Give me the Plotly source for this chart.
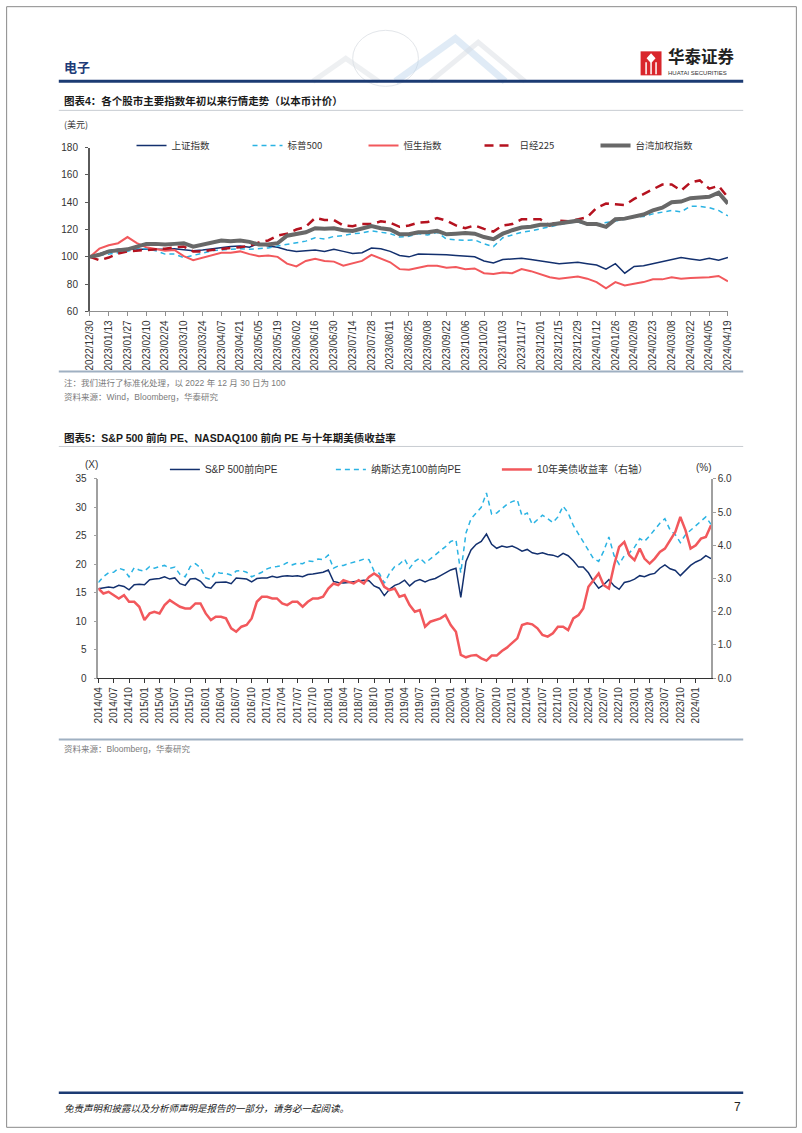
import plotly.graph_objects as go
import pandas as pd

W, H = 802, 1133
S = 0.99  # compensation for the slight shrink observed in the photographed page
def fx(x): return (401 + (x - 401) / S) / W
def fy(y): return 1 - (566.5 + (y - 566.5) / S) / H

FONT = "Liberation Sans, Arial, Noto Sans CJK SC, sans-serif"
CJK = "Noto Sans CJK SC, Liberation Sans, sans-serif"

# ---------------- Chart 1 data (weekly, normalised to 100 on 2022/12/30) ----------------
week_dates = [d.strftime("%Y-%m-%d") for d in pd.date_range("2022-12-30", "2024-04-19", freq="7D")]
shanghai = [100, 102, 104.5, 105.5, 105.5, 105, 105.5, 105, 105.5, 106,
            105, 104.5, 105, 106, 107, 107.5, 108, 107, 110, 108,
            107, 105, 104, 104.5, 105, 104, 105.5, 104, 102.5, 103,
            106.5, 106, 104, 101, 100, 102, 102, 101.5, 101.5, 101,
            100.5, 100, 97, 95.5, 98, 98.5, 99, 98, 97, 96.5,
            95, 95.5, 96, 95, 94, 91, 95, 88, 93, 93.5,
            95, 96.5, 97.5, 99.5, 98.5, 97.5, 99, 97.5, 99.5]
sp500_idx = [100, 101, 101.5, 102.5, 104, 106, 106, 104.5, 102, 102,
             99.5, 101, 103, 104.5, 105, 105.5, 106, 105.5, 106, 106.5,
             108, 109, 110, 111.5, 114, 113, 115, 115.5, 117, 117.5,
             119, 118, 117, 114.5, 115, 117, 116, 118, 113, 112.5,
             112, 112.5, 109.5, 107.5, 114, 116, 118, 119, 120.5, 122,
             124, 125, 125.5, 123.5, 124, 125, 126.5, 127.5, 129, 129.5,
             131.5, 132.5, 134, 133, 137, 137, 136, 134, 130]
hang_seng = [100, 106, 108.5, 110, 114.5, 110, 107, 106, 104.5, 105,
             100.5, 97.5, 99.5, 101, 103, 103, 104, 102, 100.5, 101,
             100, 95, 93, 97, 98.5, 97, 96.5, 93.5, 95, 97,
             101.5, 99, 96, 91, 90.5, 92, 93.5, 93.5, 92, 92.5,
             91, 91.5, 88, 87.5, 88.5, 88, 91, 89.5, 87.5, 85,
             84, 85, 85.5, 84, 81.5, 77, 81.5, 79, 80, 81.5,
             83.5, 83.5, 85, 84, 84.5, 84.5, 85, 86, 82]
nikkei = [100, 97.5, 99.5, 102.5, 104, 104.5, 105, 105, 106, 107,
          107.5, 104, 104, 105, 106, 106.5, 107, 108, 110.5, 112,
          115.5, 117, 120, 122, 128.5, 127, 127, 123, 122.5, 124,
          124, 126, 125, 122, 123, 125, 125.5, 128.5, 126.5, 123,
          121, 123, 120.5, 118.5, 123, 124, 127.5, 127.5, 127.5, 123,
          126.5, 126, 127.5, 129, 136, 139, 138.5, 138, 142.5, 146,
          150, 153, 153, 148.5, 154.5, 156, 150, 152, 143.5]
taiwan = [100, 101.5, 104, 105, 105.5, 107.5, 109.5, 109.5, 109, 109.5,
          110, 107.5, 109, 110, 112, 111.5, 112, 111, 109, 109,
          110, 115.5, 117, 118, 121, 120.5, 121, 119.5, 119, 120.5,
          122.5, 121, 120, 116.5, 116.5, 118, 118, 119, 116.5, 117,
          117.5, 117, 114.5, 113, 117, 119.5, 121.5, 122, 123.5, 123.5,
          124.5, 125, 126.5, 124, 124, 122, 127.5, 128, 129.5, 131,
          134, 136, 140, 140.5, 143, 143.5, 144, 147, 139]
c1_names = ["上证指数", "标普500", "恒生指数", "日经225", "台湾加权指数"]
c1_tickvals = [d.strftime("%Y-%m-%d") for d in pd.date_range("2022-12-30", "2024-04-19", freq="14D")]
c1_ticktext = [d.replace("-", "/") for d in c1_tickvals]

# ---------------- Chart 2 data (monthly) ----------------
month_dates = [d.strftime("%Y-%m-%d") for d in pd.date_range("2014-04-01", "2024-04-01", freq="MS")]
spx_pe = [15.7, 15.8, 16.0, 15.9, 16.3, 16.1, 15.5, 16.4, 16.5,
          16.4, 17.3, 17.4, 17.5, 17.8, 17.4, 17.6, 16.6, 16.3, 17.4, 17.5, 17.0,
          16.0, 15.8, 16.8, 16.9, 16.9, 16.6, 17.6, 17.5, 17.4, 16.9, 17.5, 17.6,
          17.6, 17.9, 17.7, 17.9, 18.0, 17.9, 18.0, 17.8, 18.2, 18.3, 18.5, 18.6,
          19.0, 17.0, 16.8, 16.7, 16.8, 16.9, 17.0, 17.2, 17.1, 16.2, 15.8, 14.5,
          15.6, 16.3, 16.6, 17.2, 16.2, 17.0, 17.3, 16.9, 17.3, 17.5, 18.0, 18.5,
          19.0, 19.3, 14.2, 20.5, 22.5, 23.5, 24.0, 25.3, 23.5, 22.8, 23.2, 23.0,
          23.2, 22.8, 22.3, 22.6, 22.0, 21.8, 22.0, 21.7, 21.6, 21.3, 21.9, 21.5,
          20.6, 19.5, 19.5, 18.5, 17.0, 15.8, 16.4, 17.3, 16.2, 15.6, 16.8, 17.0,
          17.4, 18.0, 17.8, 18.2, 18.4, 19.3, 19.9, 19.2, 18.9, 18.0, 18.9, 19.8,
          20.4, 20.8, 21.5, 21.0]
ndx_pe = [16.8, 17.8, 18.5, 18.6, 19.3, 19.0, 17.8, 19.4, 19.0,
          18.8, 19.6, 19.3, 19.6, 19.8, 19.3, 19.5, 18.2, 17.8, 19.6, 20.1, 19.4,
          17.6, 17.3, 18.7, 18.4, 18.4, 18.1, 18.8, 18.9, 18.6, 17.8, 18.2, 18.6,
          19.2, 19.5, 19.6, 19.8, 20.3, 19.9, 20.2, 20.1, 20.6, 20.5, 20.9, 20.8,
          21.6, 19.3, 19.7, 19.8, 20.1, 20.3, 20.6, 20.9, 20.8, 18.8, 18.4, 16.7,
          18.4, 19.6, 20.0, 20.9, 19.3, 20.5, 21.1, 20.2, 20.9, 21.6, 22.4, 23.1,
          24.0, 24.3, 18.5, 25.5, 28.0, 29.0, 30.0, 32.5, 28.8, 29.0, 29.8, 30.5,
          31.0, 31.3, 28.5, 29.0, 27.0, 27.8, 28.6, 28.0, 27.3, 28.3, 30.2, 29.0,
          26.8, 25.3, 24.0, 22.5, 21.0, 20.5, 22.3, 24.8, 21.5, 20.0, 21.5, 22.0,
          23.0, 24.5, 24.0, 25.0, 26.0, 27.2, 28.0, 26.0, 25.2, 23.8, 25.2, 26.0,
          26.8, 27.6, 28.3, 27.0]
ust10y = [2.70, 2.55, 2.60, 2.50, 2.40, 2.50, 2.30, 2.30, 2.15,
          1.75, 1.95, 2.00, 1.95, 2.20, 2.35, 2.25, 2.15, 2.10, 2.10, 2.25, 2.25,
          1.95, 1.75, 1.85, 1.85, 1.80, 1.50, 1.40, 1.55, 1.60, 1.80, 2.30, 2.45,
          2.45, 2.40, 2.40, 2.25, 2.20, 2.30, 2.30, 2.15, 2.30, 2.40, 2.40, 2.45,
          2.70, 2.85, 2.80, 2.95, 2.90, 2.85, 2.95, 2.85, 3.05, 3.15, 3.05, 2.75,
          2.65, 2.70, 2.45, 2.50, 2.20, 2.00, 2.05, 1.55, 1.70, 1.75, 1.80, 1.90,
          1.60, 1.40, 0.70, 0.63, 0.68, 0.70, 0.60, 0.53, 0.68, 0.68, 0.82, 0.92,
          1.05, 1.20, 1.60, 1.65, 1.62, 1.50, 1.30, 1.25, 1.35, 1.55, 1.55, 1.45,
          1.80, 1.90, 2.10, 2.75, 2.95, 3.15, 2.80, 2.70, 3.40, 3.95, 4.10, 3.70,
          3.55, 3.90, 3.60, 3.45, 3.60, 3.80, 3.90, 4.15, 4.40, 4.85, 4.45, 3.90,
          4.00, 4.20, 4.25, 4.60]
c2_names = ["S&P 500前向PE", "纳斯达克100前向PE", "10年美债收益率（右轴）"]
c2_tickvals = [d.strftime("%Y-%m-%d") for d in pd.date_range("2014-04-01", "2024-01-01", freq="3MS")]
c2_ticktext = [d[:7].replace("-", "/") for d in c2_tickvals]

NAVY = "#13306e"
SKY = "#2ab3e3"
RED = "#f2585c"
DRED = "#b5121f"
GRAY = "#686868"

fig = go.Figure()
# chart 1
fig.add_trace(go.Scatter(x=week_dates, y=shanghai, name=c1_names[0], mode="lines",
                         line=dict(color=NAVY, width=1.5), xaxis="x", yaxis="y", legend="legend"))
fig.add_trace(go.Scatter(x=week_dates, y=sp500_idx, name=c1_names[1], mode="lines",
                         line=dict(color=SKY, width=1.5, dash="5px,4px"), xaxis="x", yaxis="y", legend="legend"))
fig.add_trace(go.Scatter(x=week_dates, y=hang_seng, name=c1_names[2], mode="lines",
                         line=dict(color=RED, width=2), xaxis="x", yaxis="y", legend="legend"))
fig.add_trace(go.Scatter(x=week_dates, y=nikkei, name=c1_names[3], mode="lines",
                         line=dict(color=DRED, width=2.5, dash="9px,6px"), xaxis="x", yaxis="y", legend="legend"))
fig.add_trace(go.Scatter(x=week_dates, y=taiwan, name=c1_names[4], mode="lines",
                         line=dict(color=GRAY, width=4), xaxis="x", yaxis="y", legend="legend"))
# chart 2
fig.add_trace(go.Scatter(x=month_dates, y=spx_pe, name=c2_names[0], mode="lines",
                         line=dict(color=NAVY, width=1.5), xaxis="x2", yaxis="y2", legend="legend2"))
fig.add_trace(go.Scatter(x=month_dates, y=ndx_pe, name=c2_names[1], mode="lines",
                         line=dict(color=SKY, width=1.5, dash="5px,4px"), xaxis="x2", yaxis="y2", legend="legend2"))
fig.add_trace(go.Scatter(x=month_dates, y=ust10y, name=c2_names[2], mode="lines",
                         line=dict(color=RED, width=2.5), xaxis="x2", yaxis="y3", legend="legend2"))

tickfont = dict(size=10, family=FONT, color="#333333")

fig.update_layout(
    width=W, height=H, margin=dict(l=0, r=0, t=0, b=0),
    paper_bgcolor="white", plot_bgcolor="white",
    font=dict(family=FONT, color="#333333"),
    xaxis=dict(domain=[fx(88.3), fx(728.7)], anchor="y", type="date",
               range=[week_dates[0], week_dates[-1]],
               tickmode="array", tickvals=c1_tickvals, ticktext=c1_ticktext, tickangle=-90,
               showline=True, linecolor="#8f8f8f", linewidth=1, ticks="outside", ticklen=4,
               tickcolor="#8f8f8f", showgrid=False, zeroline=False, tickfont=tickfont),
    yaxis=dict(domain=[fy(311), fy(147.3)], anchor="x", range=[60, 180], dtick=20,
               showline=True, linecolor="#5a5a5a", linewidth=2, ticks="outside", ticklen=3,
               tickcolor="#5a5a5a", showgrid=False, zeroline=False, tickfont=tickfont,
               ticklabelstandoff=5),
    xaxis2=dict(domain=[fx(96.7), fx(711.7)], anchor="y2", type="date",
                range=[month_dates[0], month_dates[-1]],
                tickmode="array", tickvals=c2_tickvals, ticktext=c2_ticktext, tickangle=-90,
                showline=True, linecolor="#333333", linewidth=1, ticks="outside", ticklen=4,
                tickcolor="#333333", showgrid=False, zeroline=False, tickfont=tickfont),
    yaxis2=dict(domain=[fy(677.7), fy(478.3)], anchor="x2", range=[0, 35], dtick=5,
                showline=True, linecolor="#a0a0a0", linewidth=1.5, ticks="outside", ticklen=3,
                tickcolor="#a0a0a0", showgrid=False, zeroline=False, tickfont=tickfont,
                ticklabelstandoff=5),
    yaxis3=dict(overlaying="y2", side="right", anchor="x2", range=[0, 6], dtick=1, tickformat=".1f",
                showline=True, linecolor="#a0a0a0", linewidth=1.5, ticks="outside", ticklen=3,
                tickcolor="#a0a0a0", showgrid=False, zeroline=False, tickfont=tickfont),
    legend=dict(orientation="h", x=fx(130), y=fy(145), xanchor="left", yanchor="middle",
                entrywidth=71, entrywidthmode="pixels", bgcolor="rgba(0,0,0,0)",
                font=dict(size=9.5, family=CJK, color="#333333"), itemwidth=30),
    legend2=dict(orientation="h", x=fx(163.5), y=fy(469), xanchor="left", yanchor="middle",
                 entrywidth=121, entrywidthmode="pixels", bgcolor="rgba(0,0,0,0)",
                 font=dict(size=10, family=FONT, color="#333333"), itemwidth=30),
    showlegend=True,
)

shapes = []
def hline(y, x0, x1, color, width):
    shapes.append(dict(type="line", xref="paper", yref="paper", x0=fx(x0), x1=fx(x1),
                       y0=fy(y), y1=fy(y), line=dict(color=color, width=width)))

# page border
shapes.append(dict(type="rect", xref="paper", yref="paper", x0=0.0008, x1=0.9992,
                   y0=0.0006, y1=0.9994, line=dict(color="#8a8a8a", width=1)))
# decorative header graphic (faint)
shapes.append(dict(type="circle", xref="paper", yref="paper", x0=fx(352), x1=fx(418),
                   y0=fy(86), y1=fy(30), line=dict(color="#dde1e6", width=1), opacity=0.8))
for pts, col, w in [((312, 81, 345, 58, 378, 81), "#dadfe4", 5),
                    ((395, 81, 455, 38, 505, 81), "#bcd5ec", 7),
                    ((430, 81, 478, 42, 525, 81), "#d6dbe1", 5)]:
    p = "M {} {} L {} {} L {} {}".format(fx(pts[0]), fy(pts[1]), fx(pts[2]), fy(pts[3]), fx(pts[4]), fy(pts[5]))
    shapes.append(dict(type="path", xref="paper", yref="paper", path=p,
                       line=dict(color=col, width=w), opacity=0.45))
# logo
shapes.append(dict(type="rect", xref="paper", yref="paper", x0=fx(641), x1=fx(662),
                   y0=fy(75), y1=fy(51), fillcolor="#d9262c", line=dict(width=0)))
for x0 in (646.5, 651.5, 656.5):
    shapes.append(dict(type="line", xref="paper", yref="paper", x0=fx(x0), x1=fx(x0),
                       y0=fy(74), y1=fy(62), line=dict(color="white", width=1.5)))
shapes.append(dict(type="path", xref="paper", yref="paper",
                   path="M {} {} L {} {} L {} {} L {} {} Z".format(fx(651.5), fy(53), fx(656), fy(58), fx(651.5), fy(63), fx(647), fy(58)),
                   fillcolor="white", line=dict(width=0)))
hline(81, 57, 744, "#1c3b73", 3)
hline(110, 57, 744, "#c8ccd2", 1)
hline(371, 57, 744, "#9fb0c2", 2)
hline(446, 57, 744, "#c8ccd2", 1)
hline(739, 57, 744, "#9fb0c2", 2)
hline(1092, 57, 744, "#1c3b73", 2.5)
fig.update_layout(shapes=shapes)

ann = []
def text(x, y, s, size, color="#333333", family=FONT, bold=False, anchor="left", italic=False):
    if bold:
        s = "<b>" + s + "</b>"
    if italic:
        s = "<i>" + s + "</i>"
    ann.append(dict(xref="paper", yref="paper", x=fx(x), y=fy(y), text=s, showarrow=False,
                    xanchor=anchor, yanchor="middle", borderpad=0,
                    font=dict(size=size, color=color, family=family)))

text(61, 66, "电子", 13, "#1d3b78", CJK, bold=True)
text(667, 56, "华泰证券", 16.5, "#222222", CJK, bold=True)
text(668, 73, "HUATAI SECURITIES", 6, "#333333", FONT)
text(61, 101, "图表4：各个股市主要指数年初以来行情走势（以本币计价）", 10.5, "#1a1a1a", FONT, bold=True)
text(61, 124, "(美元)", 9, "#333333", CJK)
text(61, 383, "注：我们进行了标准化处理，以 2022 年 12 月 30 日为 100", 8.5, "#7a7a7a", FONT)
text(61, 397, "资料来源：Wind，Bloomberg，华泰研究", 8.5, "#7a7a7a", FONT)
text(61, 438, "图表5：S&P 500 前向 PE、NASDAQ100 前向 PE 与十年期美债收益率", 10.5, "#1a1a1a", FONT, bold=True)
text(90, 464, "(X)", 10, "#333333", FONT, anchor="center")
text(705, 467, "(%)", 10, "#333333", FONT, anchor="center")
text(61, 748, "资料来源：Bloomberg，华泰研究", 8.5, "#7a7a7a", FONT)
text(61, 1107, "免责声明和披露以及分析师声明是报告的一部分，请务必一起阅读。", 9.5, "#222222", CJK, italic=True)
text(743, 1106, "7", 12, "#222222", FONT, anchor="right")
fig.update_layout(annotations=ann)

fig.write_html(
    "out.html",
    config={"displayModeBar": False},
    post_script=(
        "document.documentElement.style.margin='0';"
        "document.body.style.margin='0';document.body.style.padding='0';"
        "document.body.style.overflow='hidden';document.documentElement.style.overflow='hidden';"
        "var gd=document.getElementById('{plot_id}');"
        "gd.style.position='fixed';gd.style.left='0px';gd.style.top='0px';"
    ),
)
